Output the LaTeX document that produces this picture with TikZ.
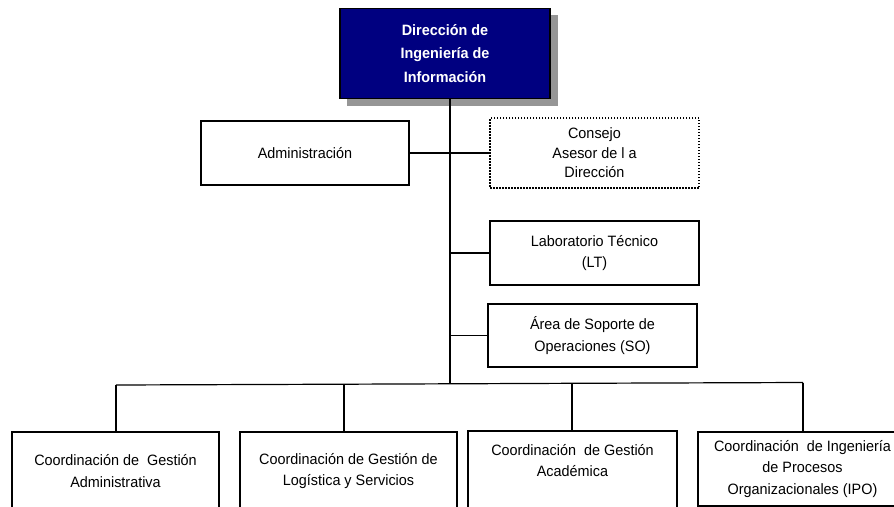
\documentclass[tikz,border=0pt]{standalone}
\usepackage{fontspec}
\setmainfont{Liberation Sans}[FakeStretch=0.96]
\definecolor{navy}{RGB}{0,0,128}
\definecolor{shadowgray}{RGB}{150,150,150}
\begin{document}
\begin{tikzpicture}[x=1pt,y=-1pt,
  box/.style={draw=black, line width=1.2pt, fill=white, rectangle, inner sep=0pt, align=center,
    font=\fontsize{15}{21.3}\selectfont},
  conn/.style={draw=black, line width=1.2pt}]
\useasboundingbox (0,0) rectangle (894,506);
\fill[white] (0,0) rectangle (894,506);
\clip (0,0) rectangle (894,506);
% top box with shadow
\fill[shadowgray] (347,15) rectangle (558,106);
\node[box, fill=navy, text=white, minimum width=210pt, minimum height=90pt,
  font=\bfseries\fontsize{15}{23.2}\selectfont] (dir) at (445,53.5) {Dirección de\\Ingeniería de\\Información};
\coordinate (v) at (450,98);
% staff boxes
\node[box, minimum width=208pt, minimum height=64pt] (adm) at (305,153) {Administración};
\node[box, dash pattern=on 1.5pt off 1.5pt, minimum width=209pt, minimum height=70pt,
  font=\fontsize{15}{19.5}\selectfont] (con) at (594.5,153) {Consejo\\Asesor de l a\\Dirección};
\node[box, minimum width=209pt, minimum height=64pt] (lab) at (594.5,253) {Laboratorio Técnico\\(LT)};
\node[box, minimum width=209pt, minimum height=63pt] (are) at (592.5,335.5) {Área de Soporte de\\Operaciones (SO)};
% bus
\coordinate (b1) at (116,385);
\coordinate (b2) at (344,384.2);
\coordinate (bv) at (450,383.8);
\coordinate (b3) at (572,383.3);
\coordinate (b4) at (803,382.5);
% bottom boxes
\node[box, minimum width=207pt, minimum height=78pt] (c1) at (115.5,471) {Coordinación de \ Gestión\\Administrativa};
\node[box, minimum width=217pt, minimum height=78pt] (c2) at (348.5,471) {Coordinación de Gestión de\\Logística y Servicios};
\node[box, minimum width=209pt, minimum height=80pt] (c3) at (572.5,471) {Coordinación \ de Gestión\\Académica\\ \ };
\node[box, minimum width=209pt, minimum height=74pt] (c4) at (802.5,469) {Coordinación \ de Ingeniería\\de Procesos\\Organizacionales (IPO)};
% connectors
\draw[conn] (v) -- (bv);
\draw[conn] (adm.east) -- (con.west);
\draw[conn] (v |- lab.west) -- (lab.west);
\draw[conn] (v |- are.west) -- (are.west);
\draw[conn] (b1) -- (b2) -- (bv) -- (b3) -- (b4);
\draw[conn] (b1) -- (b1 |- c1.north);
\draw[conn] (b2) -- (b2 |- c2.north);
\draw[conn] (b3) -- (b3 |- c3.north);
\draw[conn] (b4) -- (b4 |- c4.north);
\end{tikzpicture}
\end{document}
